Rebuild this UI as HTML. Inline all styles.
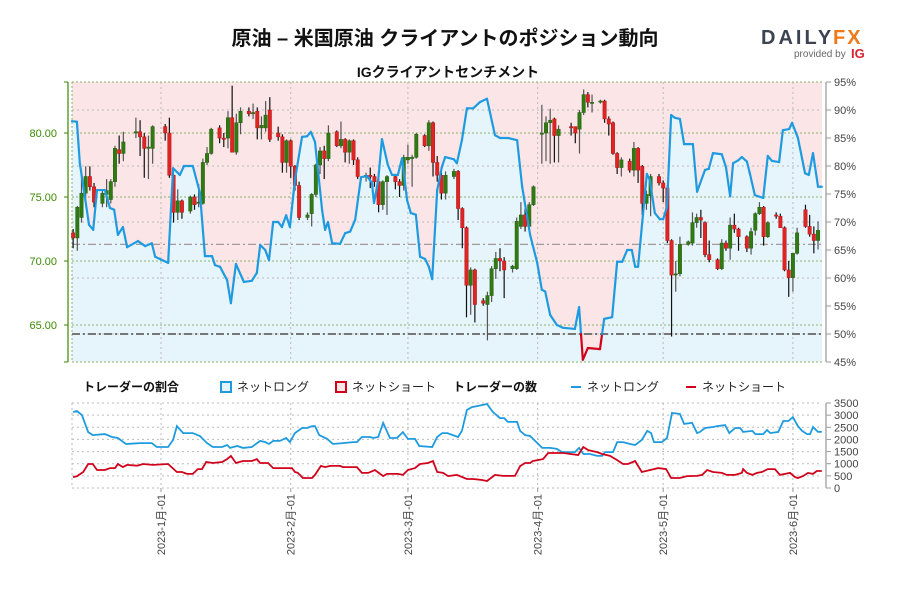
<!DOCTYPE html>
<html><head><meta charset="utf-8"><style>
html,body{margin:0;padding:0;background:#fff;}
svg text{font-family:"Liberation Sans","Noto Sans CJK JP",sans-serif;}
</style></head><body>
<svg id="c" width="900" height="600" viewBox="0 0 900 600" xmlns="http://www.w3.org/2000/svg">
<text x="445" y="45" text-anchor="middle" font-size="20" font-weight="bold" fill="#111">原油 – 米国原油 クライアントのポジション動向</text>
<text x="448" y="77" text-anchor="middle" font-size="14" font-weight="bold" fill="#111">IGクライアントセンチメント</text>
<g>
<text x="761" y="44" font-size="20" font-weight="bold" fill="#3d4451" letter-spacing="3">DAILY</text>
<text x="833" y="44" font-size="20" font-weight="bold" fill="#f07818" letter-spacing="2">FX</text>
<text x="794" y="57" font-size="10" fill="#666">provided by</text>
<text x="851" y="58" font-size="13" font-weight="bold" fill="#d9232d">IG</text>
</g>
<g id="main"></g>
<g id="bottom"></g>
<g>
<text x="83" y="391" font-size="12" font-weight="bold" fill="#111">トレーダーの割合</text>
<rect x="221" y="382" width="10" height="10" fill="#e5f3fb" stroke="#1e9be0" stroke-width="2"/>
<text x="237" y="391" font-size="12" fill="#222">ネットロング</text>
<rect x="336" y="382" width="10" height="10" fill="#fbe5e6" stroke="#d0021b" stroke-width="2"/>
<text x="352" y="391" font-size="12" fill="#222">ネットショート</text>
<text x="453" y="391" font-size="12" font-weight="bold" fill="#111">トレーダーの数</text>
<line x1="571" y1="387" x2="581" y2="387" stroke="#1e9be0" stroke-width="2"/>
<text x="587" y="391" font-size="12" fill="#222">ネットロング</text>
<line x1="686" y1="387" x2="696" y2="387" stroke="#d0021b" stroke-width="2"/>
<text x="702" y="391" font-size="12" fill="#222">ネットショート</text>
</g>
</svg>
<script>
// ---- candle data (days since 2023-01-01) ----
const candleDays=[-21,-20,-19,-18,-17,-16,-14,-13,-12,-11,-10,-9,-6,-5,-4,-3,-2,1,2,3,4,5,7,8,9,10,11,12,14,15,16,17,18,19,21,22,23,24,25,26,28,29,30,31,32,33,35,36,37,38,39,40,42,43,44,45,46,47,49,50,51,52,53,54,56,57,58,59,60,61,63,64,65,66,67,68,70,71,72,73,74,75,77,78,79,80,81,82,84,85,86,87,88,89,91,92,93,94,95,98,99,100,101,102,103,105,106,107,108,109,110,112,113,114,115,116,117,119,120,121,122,123,124,126,127,128,129,130,131,133,134,135,136,137,138,140,141,142,143,144,145,147,148,149,150,151,152,154,155,156,157];
const opens=[72.2,71.8,73.4,75.3,76.6,75.8,74.5,75.2,74.8,76.2,78.7,78.4,80.0,80.1,79.7,78.8,78.8,80.5,80.0,76.7,73.8,74.7,73.9,75.0,74.5,74.5,77.7,78.4,80.4,79.6,79.6,81.2,78.5,80.8,81.7,81.5,81.7,80.4,80.4,81.8,80.0,79.7,77.7,79.4,77.4,75.9,73.4,73.7,75.2,77.5,78.6,78.0,80.1,79.0,79.5,78.5,79.4,77.9,76.6,76.7,76.6,76.2,74.4,76.2,76.6,76.2,75.9,77.9,78.0,78.1,79.8,79.0,80.8,77.7,76.7,75.3,76.6,77.0,74.1,72.6,68.1,69.3,66.9,66.6,67.3,69.4,70.2,70.0,69.4,69.4,72.7,73.6,72.7,74.4,79.9,80.0,80.8,81.1,79.8,80.5,80.5,80.3,81.6,83.0,82.4,82.5,82.5,81.1,80.8,78.4,77.3,77.8,77.1,78.8,77.4,74.5,75.1,76.6,76.1,75.7,71.6,68.9,69.0,71.3,71.4,73.0,73.4,73.0,70.5,70.1,69.4,71.4,71.0,72.8,72.5,71.9,71.0,72.4,73.7,74.2,71.9,73.6,73.5,72.6,69.3,68.7,70.6,74.0,72.7,72.1,71.6];
const highs=[72.5,74.3,76.8,77.4,77.4,76.1,75.5,76.4,76.4,79.0,79.8,80.1,81.2,81.0,80.0,79.8,80.6,80.7,81.2,76.8,75.6,74.8,75.1,75.2,76.0,78.0,78.9,80.4,80.6,80.0,81.7,83.7,81.5,82.0,82.0,82.3,82.0,81.3,82.5,82.8,80.5,79.9,79.5,79.5,77.5,76.2,73.8,75.3,77.6,78.9,79.0,80.6,80.2,80.9,79.6,79.5,79.5,78.1,76.9,77.3,76.8,76.5,76.3,76.7,76.8,76.4,78.3,79.1,78.3,80.0,79.9,81.0,80.9,78.2,77.0,77.0,77.2,77.1,74.2,72.7,69.5,69.4,67.1,67.6,69.6,70.7,71.0,70.3,69.7,73.4,74.6,74.2,74.6,75.9,82.2,81.3,81.9,81.2,80.6,80.8,80.5,81.8,83.4,83.2,83.0,82.6,82.6,81.3,80.9,78.5,78.1,78.0,79.3,78.9,77.5,75.5,76.8,76.8,76.3,75.9,71.7,70.0,71.9,71.6,73.8,73.7,74.0,73.1,71.6,70.2,71.7,71.6,73.4,73.7,72.6,72.0,72.6,73.8,74.6,74.3,73.1,73.8,73.7,72.7,70.0,70.6,72.6,74.4,73.6,72.7,73.1];
const lows=[71.0,70.8,73.0,74.9,75.5,74.2,74.2,74.2,74.5,75.8,77.6,77.8,79.6,78.2,76.5,76.4,77.6,79.4,76.5,73.0,73.2,73.3,73.7,74.0,74.2,74.4,77.5,78.3,79.2,78.9,78.8,78.5,78.3,79.9,81.3,81.1,79.5,79.5,80.1,79.3,79.4,76.9,76.9,76.5,75.5,73.2,73.2,72.7,75.0,76.8,76.4,77.8,78.9,78.8,77.7,77.6,77.5,76.4,76.2,75.7,75.8,73.8,74.0,73.6,75.6,75.0,75.5,77.6,75.8,78.0,78.9,78.6,76.6,76.2,74.8,74.8,76.4,73.2,71.0,65.6,65.8,65.2,66.5,63.8,66.8,68.6,69.2,67.1,69.1,69.3,72.5,72.3,72.6,74.3,77.6,77.8,77.6,77.7,77.7,79.8,79.2,78.4,81.4,82.0,81.6,82.3,80.8,79.8,78.3,76.8,76.6,76.9,76.6,76.1,73.6,74.0,73.5,75.9,74.6,71.4,64.1,67.6,68.8,71.2,71.2,72.6,71.8,70.3,69.9,69.3,69.3,70.8,70.1,72.2,70.8,70.7,70.5,72.0,73.6,71.2,71.8,73.3,72.7,69.2,67.2,67.6,70.5,72.6,71.9,70.6,70.9];
const closes=[71.8,74.2,75.3,76.6,75.8,74.6,75.3,75.5,76.2,78.8,78.4,79.3,80.1,79.7,78.8,78.9,80.5,80.0,76.7,73.8,74.7,73.8,75.0,74.4,74.6,77.7,78.4,80.3,79.6,79.5,81.2,78.5,80.8,81.7,81.5,81.6,80.4,80.6,81.4,79.5,79.7,77.7,79.4,77.4,75.9,73.4,73.6,75.2,77.5,78.6,78.0,80.0,79.0,79.5,78.5,79.4,77.9,76.6,76.7,76.6,76.2,74.4,76.2,76.6,76.2,75.9,78.1,78.1,78.1,79.9,79.0,80.8,77.7,76.7,75.3,76.7,77.0,74.1,72.6,68.1,69.3,66.6,66.7,67.3,69.4,70.2,70.0,69.3,69.6,73.1,73.6,72.7,74.4,75.8,80.0,80.8,81.0,79.8,80.3,80.4,80.0,81.6,83.0,82.4,82.4,82.5,81.1,80.7,78.4,77.3,77.9,77.1,78.8,77.1,74.5,75.2,76.6,76.1,75.7,71.6,68.9,69.0,71.3,71.5,73.0,73.4,73.2,70.5,70.1,69.4,71.4,71.0,72.8,72.5,71.9,71.0,72.3,73.7,74.2,71.9,73.0,73.5,72.6,69.3,68.7,70.6,72.2,72.7,72.1,71.6,72.4];
const currentPrice=71.3;
// ---- sentiment % long ----
const sentDays=[-21.3,-20.1,-19.4,-17.2,-16.2,-15.3,-13.4,-12.2,-11.2,-10.3,-9.1,-8.1,-5.5,-3.8,-2.2,-1.4,1.7,2.9,4.5,5.5,7.6,9.3,10.5,12.2,12.9,14.1,15.8,16.7,17.9,19.8,21.7,22.9,23.7,24.9,25.8,26.8,28.0,28.9,29.9,30.8,32.0,33.7,34.9,35.8,36.8,37.5,38.5,39.2,39.9,40.9,42.8,44.0,45.2,46.4,47.8,49.2,50.4,50.9,51.9,52.8,54.2,55.2,56.6,57.6,58.8,59.7,60.9,61.9,63.1,64.0,64.8,66.0,67.1,67.9,70.0,70.7,71.9,73.1,74.6,76.2,77.9,79.8,81.0,82.9,85.1,86.3,88.2,89.9,91.0,91.8,93.0,94.6,96.1,98.9,99.9,100.8,102.0,104.9,105.9,107.8,109.0,110.2,111.4,112.5,113.3,114.0,115.2,116.1,116.8,118.0,119.2,120.0,120.9,121.9,122.8,124.0,125.0,127.1,128.1,130.0,130.9,131.9,134.0,135.0,136.0,136.7,137.9,138.8,140.0,140.7,141.9,143.9,145.0,146.0,147.7,148.6,150.1,150.8,152.2,153.9,154.8,155.8,157.0,157.9];
const sentLong=[88.0,87.9,80.5,69.5,68.6,75.7,75.7,72.5,72.2,67.7,69.1,65.5,66.6,65.7,66.2,63.8,62.7,79.6,78.4,80,80,75.2,63.9,63.9,62.3,62.0,59.6,55.5,62.5,59.3,59.5,60.9,65.9,65.0,63.2,70.0,70.0,69.1,71.2,69.1,77.5,85.2,85.3,86.1,84.3,79.3,72.1,68.6,70,66.2,66.1,68,68.3,70.4,78.0,78.2,77,73.4,77.5,84.8,80.2,78.4,78.4,81.4,73.9,71.6,71.3,63.8,63.4,62,59.8,75.7,79.8,81.6,81.2,80.5,84.6,90.3,90.3,91.4,92,85.5,85,85,84.6,76.3,67.7,62.7,57.9,57.6,53.4,51.6,51.1,50.9,54.8,45.4,47.5,47.3,52.7,53.0,62.9,62.9,65,65,62,62,71.6,78.6,77.5,71.6,70.5,70.5,72.7,89.1,88.6,88.4,83.9,83.9,75.4,79.3,79.5,82.3,82.1,79.8,74.6,80.5,81,81.6,80.8,78.7,74.8,74.3,81.8,80.9,80.7,86.4,86.6,87.7,85,78.7,78.4,82.3,76.3,76.3];
// ---- trader counts ----
const longDays=[-21.0,-20.1,-18.9,-17.4,-16.3,-13.4,-11.7,-10.3,-8.4,-5.0,-2.2,-1.0,1.7,2.9,3.8,5.3,7.6,9.3,11.0,12.4,14.6,15.8,16.5,18.2,19.6,21.7,23.7,24.9,25.8,26.8,28.4,29.9,30.8,32.0,33.7,34.9,36.1,36.8,37.8,39.7,41.1,43.5,45.9,46.8,48.0,50.0,50.7,51.9,53.1,54.7,56.4,57.8,59.0,60.7,61.7,64.8,66.0,67.2,68.4,71.0,71.9,73.1,74.3,75.8,77.9,79.3,81.0,82.0,82.9,85.1,85.8,87.0,88.2,89.4,91.1,93.0,94.6,95.8,98.9,99.9,100.9,102.5,104.2,105.4,106.1,108.0,109.0,110.4,112.1,113.3,114.9,116.2,117.1,117.8,119.7,120.9,122.1,124.0,125.0,126.9,128.1,128.8,130.0,131.9,132.9,134.8,135.8,137.2,138.4,139.1,141.3,142.0,143.9,144.8,145.6,147.5,148.7,149.9,151.0,152.2,153.2,154.4,155.1,155.8,157.0,157.9];
const longCount=[3130,3170,3000,2300,2180,2220,2100,2060,1810,1850,1850,1690,1690,1980,2550,2260,2260,2140,1850,1690,1690,1770,1650,1730,1650,1690,1940,1890,1810,1940,1940,2060,1890,2260,2470,2470,2550,2550,2180,2020,1810,1850,1890,1890,2100,2100,2060,2100,2680,2060,2060,2300,2020,2020,1730,1690,2100,2260,2260,2100,2350,3210,3330,3380,3460,3130,2880,2880,2720,2720,2350,2180,2140,1940,1650,1650,1610,1480,1480,1650,1400,1400,1320,1320,1480,1480,1890,1890,1810,1770,1980,2350,2260,1890,1890,2060,3090,3050,2640,2680,2260,2310,2470,2510,2550,2590,2260,2470,2470,2310,2350,2220,2220,2390,2260,2310,2760,2760,2920,2550,2350,2220,2220,2510,2310,2310];
const shortDays=[-21.0,-20.1,-18.6,-17.4,-16.3,-15.3,-13.4,-12.2,-11.0,-10.3,-9.1,-8.1,-5.7,-4.3,-1.9,1.7,3.8,5.0,6.2,7.6,8.8,9.8,10.8,12.4,14.6,15.8,16.7,17.9,19.6,21.7,22.9,23.7,25.6,26.8,28.4,30.1,31.3,32.0,32.7,33.9,36.1,36.8,38.2,39.2,40.4,42.8,43.5,46.8,48.0,49.5,51.1,53.1,54.0,56.6,57.8,59.0,60.7,61.9,63.8,65.0,66.0,67.4,68.6,70.7,73.1,74.6,76.7,77.9,79.8,81.7,84.6,85.8,87.0,88.2,88.9,91.3,92.5,93.7,96.1,99.7,100.9,102.1,104.2,105.4,107.3,109.0,110.4,111.6,113.3,114.9,116.9,118.8,120.7,121.9,124.0,125.7,128.1,129.3,130.5,131.9,134.0,135.2,137.2,138.8,139.1,140.0,141.3,142.4,143.6,145.0,146.7,147.9,149.1,150.3,151.5,152.2,153.4,154.6,155.8,156.7,157.9];
const shortCount=[450,480,660,990,990,740,740,820,820,990,860,950,920,990,950,990,660,660,580,580,780,780,1070,1030,1070,1190,1320,1030,1110,1110,1190,1030,1030,820,820,820,820,660,620,410,410,540,910,860,910,910,860,860,620,620,740,490,580,580,540,740,820,990,1030,1110,660,620,490,540,370,370,330,290,540,500,500,900,1030,1030,1110,1190,1440,1440,1440,1360,1690,1560,1480,1400,1320,1150,990,990,1110,660,740,820,780,410,410,490,500,540,740,660,620,540,540,620,780,620,540,620,660,780,780,540,580,620,450,410,490,620,580,700,700];
const monthLabels=["2023-1月-01","2023-2月-01","2023-3月-01","2023-4月-01","2023-5月-01","2023-6月-01"];
const monthDays=[0,31,59,90,120,151];
const priceTicks=[65,70,75,80];
const pctTicks=[45,50,55,60,65,70,75,80,85,90,95];
const countTicks=[0,500,1000,1500,2000,2500,3000,3500];

const NS="http://www.w3.org/2000/svg";
const L=72,R=822,T=82,B=362,BT=403,BB=488;
const dayMin=-21.27,dayMax=157.95;
const xs=d=>L+(d-dayMin)/(dayMax-dayMin)*(R-L);
const yPrice=p=>133+(80-p)*12.8;
const yPct=p=>T+(95-p)*(B-T)/50;
const yCnt=v=>BB-v/3500*(BB-BT);
function mk(tag,attrs,parent){const e=document.createElementNS(NS,tag);for(const k in attrs)e.setAttribute(k,attrs[k]);parent.appendChild(e);return e;}
const main=document.getElementById('main'),bot=document.getElementById('bottom');

// sentiment areas
let pts=sentDays.map((d,i)=>xs(d).toFixed(1)+','+yPct(sentLong[i]).toFixed(1));
let x0=xs(sentDays[0]),x1=xs(sentDays[sentDays.length-1]);
let bg=mk('rect',{x:L,y:T,width:R-L,height:B-T,fill:'#fbe5e6'},main);


let area=mk('polygon',{points:x0+','+B+' '+pts.join(' ')+' '+x1+','+B+' '+R+','+B+' '+R+','+B,fill:'#e6f4fc'},main);


mk('rect',{x:x1,y:yPct(sentLong[sentLong.length-1]),width:Math.max(0,R-x1),height:B-yPct(sentLong[sentLong.length-1]),fill:'#e6f4fc'},main);

// grid
pctTicks.forEach(p=>{if(p%10===0&&p>45&&p<95){const g=mk('line',{x1:L,x2:R,y1:yPct(p),y2:yPct(p),stroke:'#bbb','stroke-dasharray':'2,3'},main);

}});
priceTicks.forEach(p=>{const g=mk('line',{x1:L,x2:R,y1:yPrice(p),y2:yPrice(p),stroke:'#8ab36a','stroke-dasharray':'2,2'},main);

});
[T,B].forEach(y=>mk('line',{x1:L,x2:R,y1:y,y2:y,stroke:'#8ab36a','stroke-dasharray':'2,2'},main));
monthDays.forEach(d=>{const g=mk('line',{x1:xs(d),x2:xs(d),y1:T,y2:B,stroke:'#bbb','stroke-dasharray':'2,3'},main);

});
mk('line',{x1:L,x2:L,y1:T,y2:B,stroke:'#8ab36a','stroke-dasharray':'2,2'},main);
let cp=mk('line',{x1:L,x2:R,y1:yPrice(currentPrice),y2:yPrice(currentPrice),stroke:'#a09a9a','stroke-width':1.2,'stroke-dasharray':'8,3,2,3'},main);


let fifty=mk('line',{x1:L,x2:R,y1:yPct(50),y2:yPct(50),stroke:'#777','stroke-width':2,'stroke-dasharray':'8,3,2,3'},main);



// candles
candleDays.forEach((d,i)=>{
  const x=xs(d),o=opens[i],c=closes[i],up=c>=o;
  const w=mk('line',{x1:x,x2:x,y1:yPrice(highs[i]),y2:yPrice(lows[i]),stroke:up?'#555':'#111','stroke-width':1.2},main);
  
  
  const top=yPrice(Math.max(o,c)),h=Math.max(1.2,Math.abs(yPrice(o)-yPrice(c)));
  const b=mk('rect',{x:x-1.7,y:top,width:3.4,height:h,fill:up?'#2f7a12':'#e02424',stroke:up?'#2a5f14':'#b01818','stroke-width':0.5},main);
  
  
});

// sentiment line split at 50
for(let i=0;i<sentDays.length-1;i++){
  let xa=xs(sentDays[i]),xb=xs(sentDays[i+1]),a=sentLong[i],b=sentLong[i+1];
  const segs=[];
  if((a-50)*(b-50)<0){const t=(50-a)/(b-a);const xm=xa+t*(xb-xa);segs.push([xa,a,xm,50,a>=50]);segs.push([xm,50,xb,b,b>=50]);}
  else segs.push([xa,a,xb,b,(a+b)/2>=50]);
  segs.forEach(s=>{const l=mk('line',{x1:s[0],y1:yPct(s[1]),x2:s[2],y2:yPct(s[3]),stroke:s[4]?'#1e9be0':'#d0021b','stroke-width':2.2,'stroke-linecap':'round'},main);
  
  });
}

// left axis
mk('line',{x1:68,x2:68,y1:T,y2:B,stroke:'#3a8a00','stroke-width':1.2},main);
[T,B].forEach(y=>mk('line',{x1:64,x2:68,y1:y,y2:y,stroke:'#3a8a00'},main));
priceTicks.forEach(p=>{mk('line',{x1:64,x2:68,y1:yPrice(p),y2:yPrice(p),stroke:'#3a8a00'},main);
const t=mk('text',{x:57,y:yPrice(p)+4,'text-anchor':'end','font-size':11,fill:'#3a8a00'},main);t.textContent=p.toFixed(2);

});
// right axis
mk('line',{x1:826,x2:826,y1:T,y2:B,stroke:'#aaa','stroke-width':1.5},main);
pctTicks.forEach(p=>{mk('line',{x1:826,x2:831,y1:yPct(p),y2:yPct(p),stroke:'#999'},main);
const t=mk('text',{x:834,y:yPct(p)+4,'font-size':11,fill:'#444'},main);t.textContent=p+'%';

});

// bottom chart
countTicks.forEach(v=>{mk('line',{x1:L,x2:R,y1:yCnt(v),y2:yCnt(v),stroke:'#bbb','stroke-dasharray':'2,3'},bot);
mk('line',{x1:826,x2:831,y1:yCnt(v),y2:yCnt(v),stroke:'#999'},bot);
const t=mk('text',{x:834,y:yCnt(v)+4,'font-size':11,fill:'#444'},bot);t.textContent=v;

});
mk('line',{x1:L,x2:L,y1:BT,y2:BB,stroke:'#bbb','stroke-dasharray':'2,3'},bot);
mk('line',{x1:826,x2:826,y1:BT,y2:BB,stroke:'#aaa','stroke-width':1.5},bot);
monthDays.forEach((d,i)=>{const x=xs(d);mk('line',{x1:x,x2:x,y1:BT,y2:BB,stroke:'#bbb','stroke-dasharray':'2,3'},bot);
mk('line',{x1:x,x2:x,y1:BB,y2:BB+4,stroke:'#999'},bot);
const t=mk('text',{x:x+4,y:BB+6,'font-size':11,fill:'#444','text-anchor':'end',transform:'rotate(-90 '+(x+4)+' '+(BB+6)+')'},bot);t.textContent=monthLabels[i];

});
const lp=mk('polyline',{points:longDays.map((d,i)=>xs(d).toFixed(1)+','+yCnt(longCount[i]).toFixed(1)).join(' '),fill:'none',stroke:'#1e9be0','stroke-width':1.8},bot);


const sp=mk('polyline',{points:shortDays.map((d,i)=>xs(d).toFixed(1)+','+yCnt(shortCount[i]).toFixed(1)).join(' '),fill:'none',stroke:'#d0021b','stroke-width':1.8},bot);


</script>
</body></html>
